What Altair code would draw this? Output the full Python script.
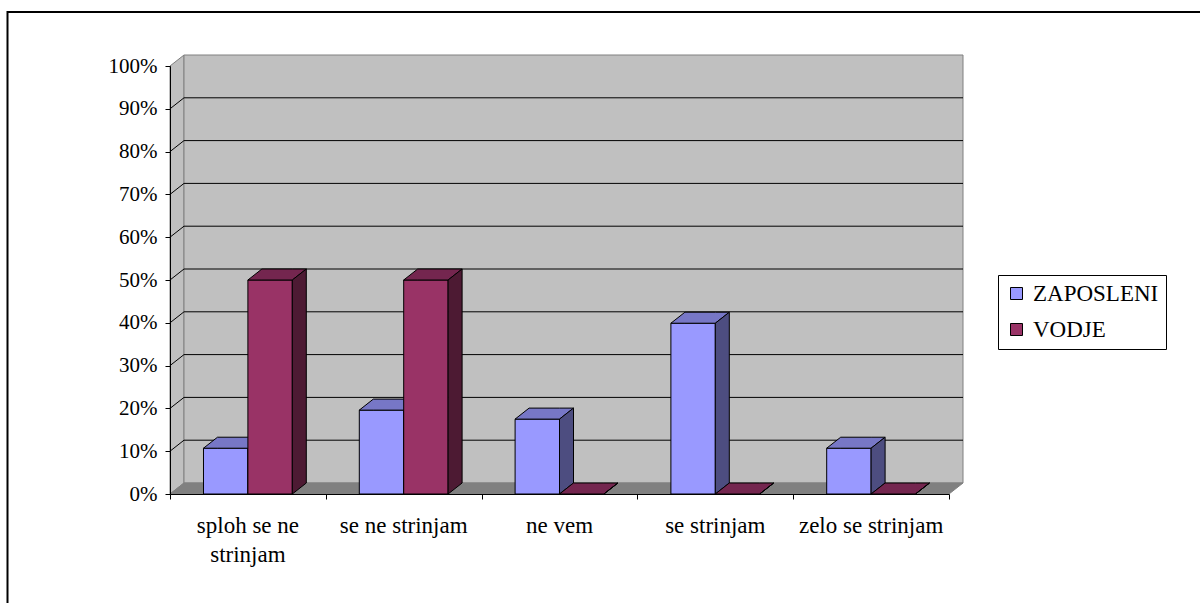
import altair as alt
import pandas as pd

# --- chart values -----------------------------------------------------------
categories = ["sploh se ne\nstrinjam", "se ne strinjam", "ne vem", "se strinjam", "zelo se strinjam"]
series_names = ["ZAPOSLENI", "VODJE"]
zaposleni = [10.7, 19.6, 17.5, 39.9, 10.7]
vodje = [50.0, 50.0, 0.0, 0.0, 0.0]
y_ticks = [0, 10, 20, 30, 40, 50, 60, 70, 80, 90, 100]
x_ticks = [0, 1, 2, 3, 4, 5]

# --- styling / geometry of the pseudo-3D box ----------------------------------
FONT = "'Times New Roman', 'Liberation Serif', serif"
FRONT = {"ZAPOSLENI": "#9999FF", "VODJE": "#993366"}
TOP = {"ZAPOSLENI": "#7777C6", "VODJE": "#74264F"}
SIDE = {"ZAPOSLENI": "#4D4D80", "VODJE": "#4D1A33"}
WALL = "#C0C0C0"
FLOOR = "#808080"
EDGE = "#808080"

W, H = 779, 428            # front plane size in px
N = len(categories)
DX = 14 / (W / N)          # depth offset in category units
DY = 11 / (H / 100)        # depth offset in percent units
BAR_START = 0.215          # first bar offset inside a category slot
BAR_W = 0.285              # bar width in category units

xscale = alt.Scale(domain=[0, N], nice=False, zero=False)
yscale = alt.Scale(domain=[0, 100], nice=False, zero=False)

x_axis = alt.Axis(values=x_ticks, labels=False, title=None, grid=False, tickSize=5,
                  tickColor="black", tickWidth=1, domainColor="black", domainWidth=1, zindex=1)
y_axis = alt.Axis(values=y_ticks, labelExpr="datum.value + '%'", title=None, grid=False,
                  tickSize=5, tickColor="black", tickWidth=1, domainColor="black",
                  domainWidth=1, labelFont=FONT, labelFontSize=21, labelColor="black",
                  labelPadding=8, zindex=1)


def xenc(field):
    return alt.X(f"{field}:Q", scale=xscale, axis=x_axis)


def yenc(field):
    return alt.Y(f"{field}:Q", scale=yscale, axis=y_axis, stack=None)


# --- tables built from the values ---------------------------------------------
walls_left = pd.DataFrame({"x": [0, DX], "lo": [0, DY], "hi": [100, 100 + DY]})
wall_back = pd.DataFrame({"x0": [DX], "x1": [N + DX], "lo": [DY], "hi": [100 + DY]})
floor = pd.DataFrame({"x": [0, DX, N, N + DX], "lo": [0, 0, 0, DY], "hi": [0, DY, DY, DY]})

grid_back = pd.DataFrame({"x0": DX, "x1": N + DX, "y": [v + DY for v in y_ticks[1:-1]]})
grid_side = pd.DataFrame({"x0": 0.0, "x1": DX,
                          "y0": [float(v) for v in y_ticks[1:-1]],
                          "y1": [v + DY for v in y_ticks[1:-1]]})

front_rows, top_rows, side_rows = [], [], []
for s_idx, (name, vals) in enumerate(zip(series_names, [zaposleni, vodje])):
    for c_idx, v in enumerate(vals):
        x0 = c_idx + BAR_START + s_idx * BAR_W
        x1 = x0 + BAR_W
        fid = f"{name}-{c_idx}"
        front_rows.append({"series": name, "order": s_idx, "x0": x0, "x1": x1, "base": 0.0, "v": v})
        for x, lo, hi in [(x0, v, v), (x0 + DX, v, v + DY), (x1, v, v + DY), (x1 + DX, v + DY, v + DY)]:
            top_rows.append({"face": fid, "order": s_idx, "x": x, "lo": lo, "hi": hi, "fill": TOP[name]})
        for x, lo, hi in [(x1, 0.0, v), (x1 + DX, DY, v + DY)]:
            side_rows.append({"face": fid, "order": s_idx, "x": x, "lo": lo, "hi": hi, "fill": SIDE[name]})

front = pd.DataFrame(front_rows)
tops = pd.DataFrame(top_rows)
sides = pd.DataFrame(side_rows)
labels = pd.DataFrame({"pos": [i + 0.5 for i in range(N)], "label": categories})

# --- layers -------------------------------------------------------------------
border = alt.Chart(pd.DataFrame({"a": [0]})).mark_rect(
    fillOpacity=0, stroke="black", strokeWidth=2
).encode(x=alt.value(-162.5), x2=alt.value(1100), y=alt.value(-54), y2=alt.value(600))

left_wall = alt.Chart(walls_left).mark_area(
    orient="vertical", color=WALL, stroke=EDGE, strokeWidth=1
).encode(x=xenc("x"), y=yenc("lo"), y2="hi")

back_wall = alt.Chart(wall_back).mark_rect(color=WALL, stroke=EDGE, strokeWidth=1).encode(
    x=xenc("x0"), x2="x1", y=yenc("lo"), y2="hi")

floor_layer = alt.Chart(floor).mark_area(
    orient="vertical", color=FLOOR, stroke=FLOOR, strokeWidth=1
).encode(x=xenc("x"), y=yenc("lo"), y2="hi")

back_grid = alt.Chart(grid_back).mark_rule(color="black", strokeWidth=1).encode(
    x=xenc("x0"), x2="x1", y=yenc("y"))

side_grid = alt.Chart(grid_side).mark_rule(color="black", strokeWidth=1).encode(
    x=xenc("x0"), x2="x1", y=yenc("y0"), y2="y1")

bar_layers = []
for s_idx, name in enumerate(series_names):
    fr = front[front["series"] == name]
    tp = tops[tops["order"] == s_idx]
    sd = sides[sides["order"] == s_idx]
    bar_layers.append(
        alt.Chart(fr).mark_rect(stroke="black", strokeWidth=1).encode(
            x=xenc("x0"), x2="x1", y=yenc("base"), y2="v",
            color=alt.Color(
                "series:N",
                scale=alt.Scale(domain=series_names, range=[FRONT[n] for n in series_names]),
                legend=alt.Legend(
                    orient="none", legendX=828, legendY=209, title=None,
                    symbolType="square", symbolSize=144, symbolStrokeColor="black",
                    symbolStrokeWidth=1, symbolOpacity=1,
                    labelFont=FONT, labelFontSize=23, labelColor="black",
                    labelOffset=5, rowPadding=12, padding=7,
                    strokeColor="black", fillColor="white",
                ),
            ),
        )
    )
    bar_layers.append(
        alt.Chart(tp).mark_area(orient="vertical", stroke="black", strokeWidth=1).encode(
            x=xenc("x"), y=yenc("lo"), y2="hi", detail="face:N",
            fill=alt.Fill("fill:N", scale=None))
    )
    bar_layers.append(
        alt.Chart(sd).mark_area(orient="vertical", stroke="black", strokeWidth=1).encode(
            x=xenc("x"), y=yenc("lo"), y2="hi", detail="face:N",
            fill=alt.Fill("fill:N", scale=None))
    )

cat_labels = alt.Chart(labels).mark_text(
    font=FONT, fontSize=23, color="black", align="center", baseline="alphabetic",
    lineBreak="\n", lineHeight=29
).encode(x=xenc("pos"), y=alt.value(467), text="label:N")

chart = alt.layer(
    border, left_wall, back_wall, floor_layer, back_grid, side_grid, *bar_layers, cat_labels
).properties(
    width=W, height=H,
    autosize=alt.AutoSizeParams(type="none"),
    padding={"left": 170, "top": 66, "right": 251, "bottom": 109},
    background="white",
).configure_view(stroke=None)

chart.save("out.html", embed_options={"renderer": "svg", "actions": False})
